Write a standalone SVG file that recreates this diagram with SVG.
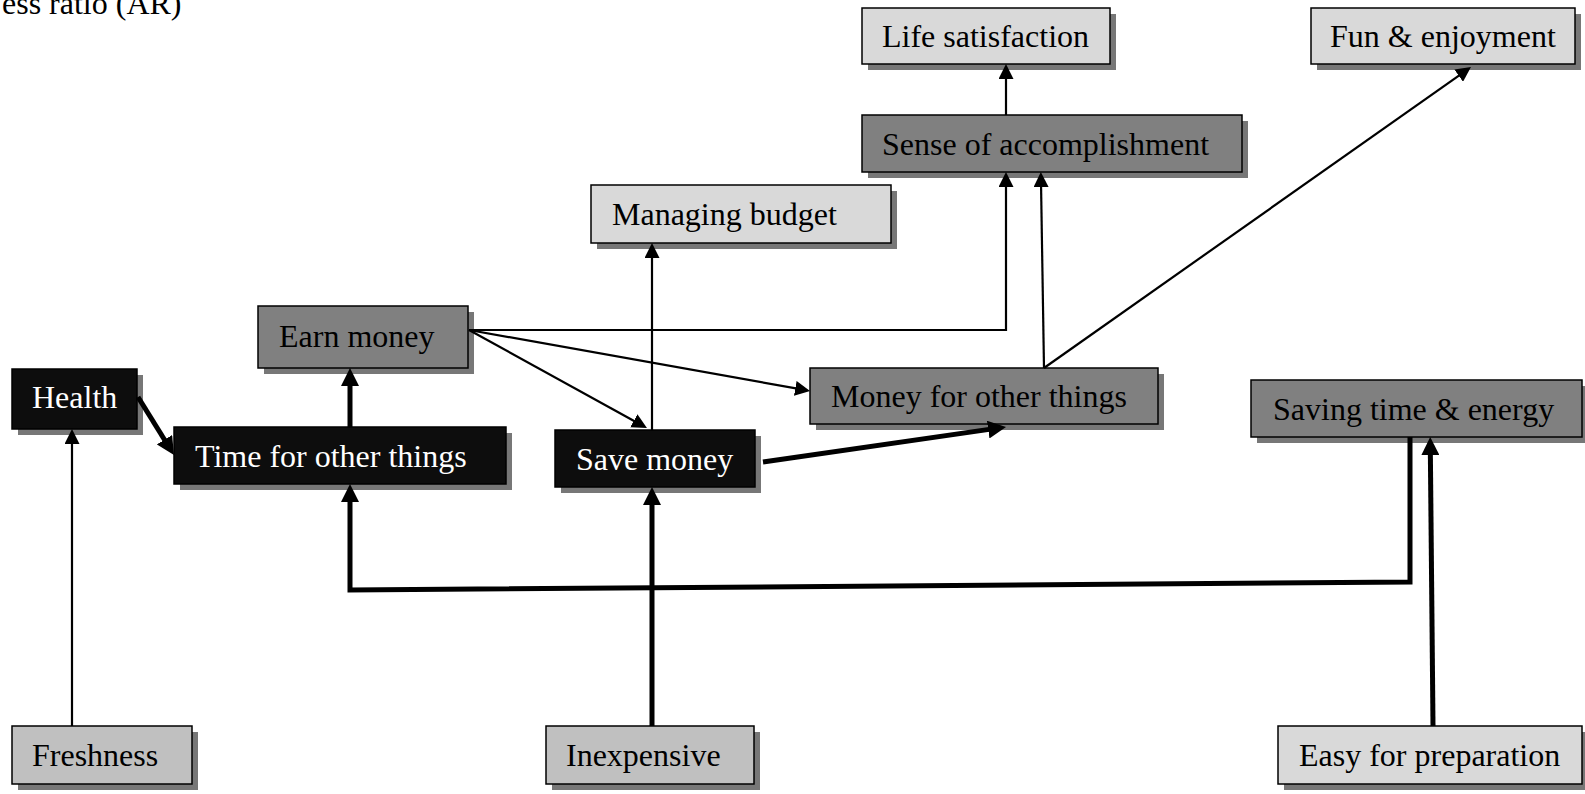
<svg xmlns="http://www.w3.org/2000/svg" width="1585" height="794" viewBox="0 0 1585 794">
  <style>
    text { font-family: "Liberation Serif", "Times New Roman", serif; font-size: 32px; }
    .box { stroke: #000; stroke-width: 1.5; }
    .shadow { fill: #777; }
    .light { fill: #d9d9d9; }
    .mid { fill: #c0c0c0; }
    .dark { fill: #808080; }
    .black { fill: #0d0d0d; }
    .t-dark { fill: #000; }
    .t-light { fill: #fff; }
    .thin { fill: none; stroke: #000; stroke-width: 2.2; marker-end: url(#ah); }
    .bold { fill: none; stroke: #000; stroke-width: 5; stroke-linejoin: miter; marker-end: url(#ahb); }
  </style>
  <defs>
    <marker id="ah" markerUnits="userSpaceOnUse" markerWidth="15" markerHeight="15" refX="5" refY="7.5" orient="auto">
      <path d="M0,0 L15,7.5 L0,15 Z" fill="#000"/>
    </marker>
    <marker id="ahb" markerUnits="userSpaceOnUse" markerWidth="18" markerHeight="18" refX="8" refY="9" orient="auto">
      <path d="M0,0 L18,9 L0,18 Z" fill="#000"/>
    </marker>
  </defs>

  <rect width="1585" height="794" fill="#fff"/>

  <!-- caption fragment at the top edge -->
  <text x="2" y="14" class="t-dark">ess ratio (AR)</text>

  <!-- nodes -->
  <g id="life-satisfaction">
    <rect class="shadow" x="868" y="14" width="248" height="56"/>
    <rect class="box light" x="862" y="8" width="248" height="56"/>
    <text class="t-dark" x="882" y="47">Life satisfaction</text>
  </g>
  <g id="fun-enjoyment">
    <rect class="shadow" x="1317" y="14" width="264" height="56"/>
    <rect class="box light" x="1311" y="8" width="264" height="56"/>
    <text class="t-dark" x="1330" y="47">Fun &amp; enjoyment</text>
  </g>
  <g id="sense-of-accomplishment">
    <rect class="shadow" x="868" y="121" width="380" height="57"/>
    <rect class="box dark" x="862" y="115" width="380" height="57"/>
    <text class="t-dark" x="882" y="155">Sense of accomplishment</text>
  </g>
  <g id="managing-budget">
    <rect class="shadow" x="597" y="191" width="300" height="58"/>
    <rect class="box light" x="591" y="185" width="300" height="58"/>
    <text class="t-dark" x="612" y="225">Managing budget</text>
  </g>
  <g id="earn-money">
    <rect class="shadow" x="264" y="312" width="210" height="62"/>
    <rect class="box dark" x="258" y="306" width="210" height="62"/>
    <text class="t-dark" x="279" y="347">Earn money</text>
  </g>
  <g id="health">
    <rect class="shadow" x="18" y="375" width="125" height="60"/>
    <rect class="box black" x="12" y="369" width="125" height="60"/>
    <text class="t-light" x="32" y="408">Health</text>
  </g>
  <g id="time-for-other-things">
    <rect class="shadow" x="180" y="433" width="332" height="57"/>
    <rect class="box black" x="174" y="427" width="332" height="57"/>
    <text class="t-light" x="195" y="467">Time for other things</text>
  </g>
  <g id="save-money">
    <rect class="shadow" x="561" y="436" width="200" height="57"/>
    <rect class="box black" x="555" y="430" width="200" height="57"/>
    <text class="t-light" x="576" y="470">Save money</text>
  </g>
  <g id="money-for-other-things">
    <rect class="shadow" x="816" y="374" width="348" height="56"/>
    <rect class="box dark" x="810" y="368" width="348" height="56"/>
    <text class="t-dark" x="831" y="407">Money for other things</text>
  </g>
  <g id="saving-time-energy">
    <rect class="shadow" x="1257" y="386" width="331" height="57"/>
    <rect class="box dark" x="1251" y="380" width="331" height="57"/>
    <text class="t-dark" x="1273" y="420">Saving time &amp; energy</text>
  </g>
  <g id="freshness">
    <rect class="shadow" x="18" y="732" width="180" height="58"/>
    <rect class="box mid" x="12" y="726" width="180" height="58"/>
    <text class="t-dark" x="32" y="766">Freshness</text>
  </g>
  <g id="inexpensive">
    <rect class="shadow" x="552" y="732" width="208" height="58"/>
    <rect class="box mid" x="546" y="726" width="208" height="58"/>
    <text class="t-dark" x="566" y="766">Inexpensive</text>
  </g>
  <g id="easy-for-preparation">
    <rect class="shadow" x="1284" y="732" width="304" height="58"/>
    <rect class="box light" x="1278" y="726" width="304" height="58"/>
    <text class="t-dark" x="1299" y="766">Easy for preparation</text>
  </g>

  <!-- connectors, drawn over the node shadows -->
  <g id="connectors">
    <path class="thin" d="M72,726 V439"/>
    <path class="bold" d="M138,397 L168.7,446.5"/>
    <path class="bold" d="M350,427 V378"/>
    <path class="bold" d="M1410,437 V582 L350,590 V494"/>
    <path class="bold" d="M652,726 V497"/>
    <path class="bold" d="M1433,726 L1430.3,447"/>
    <path class="thin" d="M652,430 V253"/>
    <path class="thin" d="M469,330 L638.2,423.2"/>
    <path class="thin" d="M469,330 L800.2,389.2"/>
    <path class="thin" d="M469,330 H1006 V182"/>
    <path class="thin" d="M1044,368 L1041,182"/>
    <path class="thin" d="M1044,368 L1462.8,72.8"/>
    <path class="bold" d="M763,462 L996.1,428.4"/>
    <path class="thin" d="M1006,115 V74"/>
  </g>
</svg>
